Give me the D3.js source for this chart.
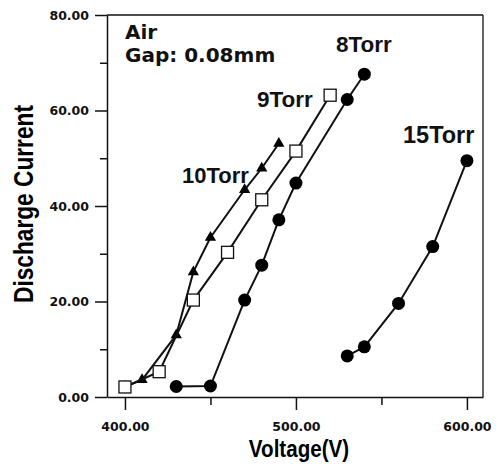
<!DOCTYPE html>
<html>
<head>
<meta charset="utf-8">
<script src="https://cdn.jsdelivr.net/npm/d3@7"></script>
<style>
  body { margin: 0; background: #fff; }
  svg { display: block; }
</style>
</head>
<body>
<div id="chart"></div>
<script>
// values
let volt8 = [430, 450, 470, 480, 490, 500, 530, 540];
let cur8 = [2.2, 2.3, 20.3, 27.6, 37.1, 44.8, 62.3, 67.6];
let volt9 = [400, 420, 440, 460, 480, 500, 520];
let cur9 = [2.1, 5.3, 20.3, 30.3, 41.3, 51.5, 63.2];
let volt10 = [400, 410, 430, 440, 450, 470, 480, 490];
let cur10 = [2.2, 3.6, 13.0, 26.2, 33.4, 43.4, 47.9, 53.1];
let volt15 = [530, 540, 560, 580, 600];
let cur15 = [8.6, 10.5, 19.6, 31.5, 49.5];

let xTicks = [400, 500, 600];
let xMinor = [450, 550];
let yTicks = [0, 20, 40, 60, 80];
let yMinor = [10, 30, 50, 70];

let W = 504, H = 468;
let tickFont = "'DejaVu Sans', sans-serif";
let labelFont = "'Liberation Sans', Arial, sans-serif";

let svg = d3.select("#chart").append("svg")
  .attr("width", W).attr("height", H);

let x = d3.scaleLinear().domain([389.5, 609.4]).range([107, 483]);
let y = d3.scaleLinear().domain([0, 80]).range([397, 15]);

let fmt = d3.format(".2f");

// frame top + right
svg.append("line")
  .attr("x1", x.range()[0]).attr("x2", x.range()[1])
  .attr("y1", y(80)).attr("y2", y(80))
  .attr("stroke", "#111").attr("stroke-width", 1.3);
svg.append("line")
  .attr("x1", x.range()[1]).attr("x2", x.range()[1])
  .attr("y1", y(80)).attr("y2", y(0))
  .attr("stroke", "#111").attr("stroke-width", 1.3);

// y axis
svg.append("g")
  .attr("transform", `translate(${x.range()[0]},0)`)
  .call(d3.axisLeft(y).tickValues(yTicks).tickFormat(fmt).tickSize(12).tickPadding(6).tickSizeOuter(0));
svg.append("g")
  .attr("transform", `translate(${x.range()[0]},0)`)
  .call(d3.axisLeft(y).tickValues(yMinor).tickFormat("").tickSize(7).tickSizeOuter(0))
  .select(".domain").remove();

// x axis
svg.append("g")
  .attr("transform", `translate(0,${y(0)})`)
  .call(d3.axisBottom(x).tickValues(xTicks).tickFormat(fmt).tickSize(13).tickPadding(12).tickSizeOuter(0));
svg.append("g")
  .attr("transform", `translate(0,${y(0)})`)
  .call(d3.axisBottom(x).tickValues(xMinor).tickFormat("").tickSize(8).tickSizeOuter(0))
  .select(".domain").remove();

svg.selectAll(".domain").attr("stroke", "#111").attr("stroke-width", 1.5);
svg.selectAll(".tick line").attr("stroke", "#111").attr("stroke-width", 1.5);
svg.selectAll(".tick text")
  .style("font-family", tickFont)
  .style("font-size", "12.5px")
  .style("font-weight", "bold")
  .attr("fill", "#111");

// axis titles
svg.append("text")
  .attr("transform", `translate(33,204) rotate(-90) scale(1,1.2)`)
  .attr("text-anchor", "middle")
  .style("font-family", labelFont)
  .style("font-size", "22.7px")
  .style("font-weight", "bold")
  .text("Discharge Current");

svg.append("text")
  .attr("transform", `translate(299,457) scale(1,1.15)`)
  .attr("text-anchor", "middle")
  .style("font-family", labelFont)
  .style("font-size", "20.6px")
  .style("font-weight", "bold")
  .text("Voltage(V)");

// series
let line = d3.line().x(d => x(d[0])).y(d => y(d[1]));

let series = [
  { v: volt10, c: cur10, mark: "tri" },
  { v: volt9, c: cur9, mark: "sq" },
  { v: volt8, c: cur8, mark: "dot" },
  { v: volt15, c: cur15, mark: "dot" }
];

series.forEach(s => {
  let pts = s.v.map((v, i) => [v, s.c[i]]);
  svg.append("path")
    .attr("d", line(pts))
    .attr("fill", "none")
    .attr("stroke", "#111")
    .attr("stroke-width", 2);

  let g = svg.append("g");
  if (s.mark == "dot") {
    g.selectAll("circle").data(pts).enter().append("circle")
      .attr("cx", d => x(d[0])).attr("cy", d => y(d[1]))
      .attr("r", 6.5).attr("fill", "#000");
  } else if (s.mark == "sq") {
    g.selectAll("rect").data(pts).enter().append("rect")
      .attr("x", d => x(d[0]) - 6).attr("y", d => y(d[1]) - 6)
      .attr("width", 12).attr("height", 12)
      .attr("fill", "#fff").attr("stroke", "#111").attr("stroke-width", 1.3);
  } else {
    g.selectAll("path").data(pts).enter().append("path")
      .attr("transform", d => `translate(${x(d[0])},${y(d[1])})`)
      .attr("d", d3.symbol().type(d3.symbolTriangle).size(55))
      .attr("fill", "#000");
  }
});

// annotations
let notes = [
  { t: "Air", x: 125, y: 39, f: tickFont, s: 20 },
  { t: "Gap: 0.08mm", x: 125, y: 62, f: tickFont, s: 20 },
  { t: "8Torr", x: 336, y: 52, f: labelFont, s: 22.5 },
  { t: "9Torr", x: 257, y: 107, f: labelFont, s: 22.5 },
  { t: "10Torr", x: 182, y: 183, f: labelFont, s: 22 },
  { t: "15Torr", x: 403, y: 143, f: labelFont, s: 23.5 }
];
svg.selectAll(".note").data(notes).enter().append("text")
  .attr("class", "note")
  .attr("x", d => d.x).attr("y", d => d.y)
  .style("font-family", d => d.f)
  .style("font-size", d => d.s + "px")
  .style("font-weight", "bold")
  .attr("fill", "#111")
  .text(d => d.t);
</script>
</body>
</html>
